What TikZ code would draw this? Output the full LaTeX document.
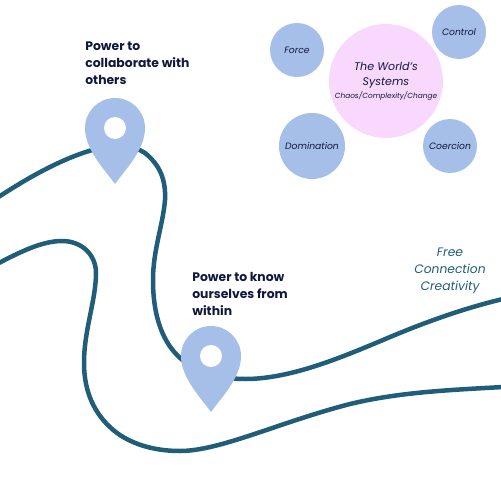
\documentclass[tikz,border=0pt]{standalone}
\usepackage{fontspec}
\setmainfont{Poppins}
\usepackage{tikz}
\usetikzlibrary{positioning}
\definecolor{trailTeal}{RGB}{31, 93, 120}
\definecolor{pinBlue}{RGB}{165, 191, 232}
\definecolor{sysPink}{RGB}{249, 216, 253}
\definecolor{inkNavy}{RGB}{16, 24, 62}

\begin{document}
\begin{tikzpicture}[
  x=0.02cm, y=-0.02cm,
  trail/.style={draw=trailTeal, line width=0.9mm},
  sys/.style={circle, fill=pinBlue, inner sep=0pt, align=center, text=inkNavy,
              font=\fontsize{5.25}{7}\selectfont\itshape},
  head/.style={anchor=north west, align=left, inner sep=0pt, text=inkNavy,
               font=\fontsize{7.05}{9.7}\selectfont\bfseries},
  pin/.pic={
    \fill[pinBlue] (-30,0) arc (180:360:30)
      .. controls (30,22) and (10,42) .. (0,56)
      .. controls (-10,42) and (-30,22) .. cycle;
    \fill[white] (0,0) circle (11);
  }
]
  \useasboundingbox (0,0) rectangle (500,500);

  %% Trails
  \draw[trail] (-3,198) .. controls (35,173) and (70,155) .. (100,148)
    .. controls (118,144) and (135,146) .. (145,153)
    .. controls (160,165) and (166,180) .. (165,200)
    .. controls (163,225) and (153,250) .. (153,280)
    .. controls (153,315) and (162,345) .. (185,362)
    .. controls (200,372) and (220,379) .. (245,379)
    .. controls (290,379) and (340,358) .. (383,340)
    .. controls (425,322) and (465,308) .. (503,299);
  \draw[trail] (-3,264) .. controls (20,252) and (42,241) .. (62,241)
    .. controls (82,241) and (96,255) .. (96,273)
    .. controls (96,300) and (84,330) .. (84,363)
    .. controls (84,395) and (97,418) .. (117,433)
    .. controls (135,446) and (158,451) .. (180,451)
    .. controls (220,451) and (280,422) .. (350,404)
    .. controls (400,392) and (450,390) .. (503,387);

  %% Pins
  \pic at (115,128) {pin};
  \pic at (211,356) {pin};

  %% Pin labels
  \node[head] (collab) at (85,41) {Power to\\collaborate with\\others};
  \node[head] (within) at (192,272) {Power to know\\ourselves from\\within};

  %% World system circles
  \node[sys, minimum size=114*0.02cm, fill=sysPink] (world) at (386,81) {};
  \node[sys, minimum size=54*0.02cm]  (force)  at (297,50)  {Force};
  \node[sys, minimum size=54*0.02cm]  (control) at (459,32) {Control};
  \node[sys, minimum size=66*0.02cm]  (domin)  at (312,146) {Domination};
  \node[sys, minimum size=54*0.02cm]  (coerc)  at (450,146) {Coercion};
  \node[align=center, inner sep=0pt, text=inkNavy, font=\fontsize{6.3}{8.6}\selectfont\itshape]
    (wtitle) at (386,75) {The World's\\Systems};
  \node[inner sep=0pt, text=inkNavy, font=\fontsize{4.2}{6}\selectfont\itshape]
    (wsub) at (386,96) {Chaos/Complexity/Change};

  %% Free text
  \node[align=center, inner sep=0pt, text=trailTeal, font=\fontsize{7}{9.7}\selectfont\itshape]
    (free) at (450,271) {Free\\Connection\\Creativity};
\end{tikzpicture}
\end{document}
